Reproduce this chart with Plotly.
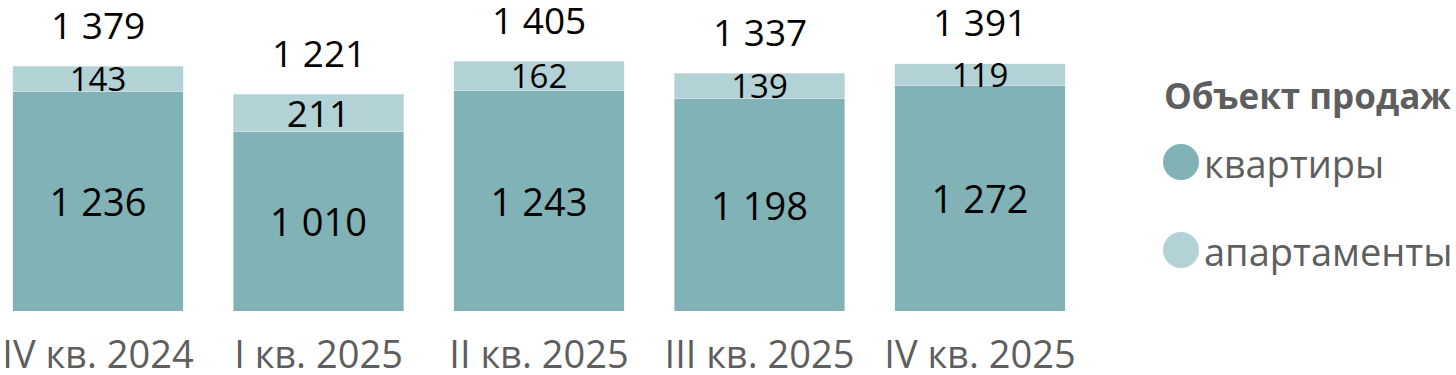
import plotly.graph_objects as go

categories = ["IV кв. 2024", "I кв. 2025", "II кв. 2025", "III кв. 2025", "IV кв. 2025"]
flats = [1236, 1010, 1243, 1198, 1272]
apartments = [143, 211, 162, 139, 119]
totals = [1379, 1221, 1405, 1337, 1391]
series_names = ["квартиры", "апартаменты"]
legend_title = "Объект продаж"

c_flats = "#80B2B6"
c_apts = "#B3D2D6"
gray = "#5E5E5E"
font_family = "Open Sans, Segoe UI, DejaVu Sans, sans-serif"

def fmt(v):
    return f"{v:,}".replace(",", " ")

fig = go.Figure()
fig.add_trace(go.Bar(
    x=categories, y=flats, name=series_names[0], marker_color=c_flats,
    text=[fmt(v) for v in flats], textposition="inside", insidetextanchor="middle",
    constraintext="none",
    textfont=dict(size=38, color="black", family=font_family), showlegend=False,
    textangle=0,
))
fig.add_trace(go.Bar(
    x=categories, y=apartments, name=series_names[1], marker_color=c_apts,
    text=[fmt(v) for v in apartments], textposition="inside", insidetextanchor="middle",
    constraintext="none",
    textfont=dict(size=[33, 37, 33, 33, 33], color="black", family=font_family), showlegend=False,
    textangle=0,
))

for c, t in zip(categories, totals):
    fig.add_annotation(x=c, y=t, text=fmt(t), showarrow=False, yanchor="middle",
                       yshift=42, font=dict(size=37, color="black", family=font_family))

# legend drawn manually with circles
PW, PH = 1100, 311
fig.add_annotation(xref="paper", yref="paper", x=1162 / PW, y=1 - 95 / PH,
                   text="<b>" + legend_title + "</b>", showarrow=False, xanchor="left",
                   yanchor="middle", font=dict(size=35, color=gray, family=font_family))
for name, col, yy in zip(series_names, [c_flats, c_apts], [162, 250]):
    ypap = 1 - yy / PH
    fig.add_shape(type="circle", xref="paper", yref="paper", xsizemode="pixel", ysizemode="pixel",
                  xanchor=1181 / PW, yanchor=ypap, x0=-18, x1=18, y0=-18, y1=18,
                  fillcolor=col, line=dict(width=0))
    fig.add_annotation(xref="paper", yref="paper", x=1202 / PW, y=ypap - 1 / PH, text=name,
                       showarrow=False, xanchor="left", yanchor="middle",
                       font=dict(size=38, color=gray, family=font_family))

fig.update_layout(
    width=1456, height=375, barmode="stack", bargap=0.225,
    margin=dict(l=0, r=1456 - PW, t=0, b=375 - PH, autoexpand=False),
    plot_bgcolor="white", paper_bgcolor="white",
    showlegend=False, uniformtext=dict(mode=False),
    xaxis=dict(range=[-98 / 220.5, (PW - 98) / 220.5], showgrid=False, showline=False,
               zeroline=False, ticks="", ticklabelstandoff=18, automargin=False,
               tickfont=dict(size=38, color=gray, family=font_family)),
    yaxis=dict(range=[0, PH / (245 / 1379)], visible=False, automargin=False),
    font=dict(family=font_family),
)
fig.write_html("out.html")
